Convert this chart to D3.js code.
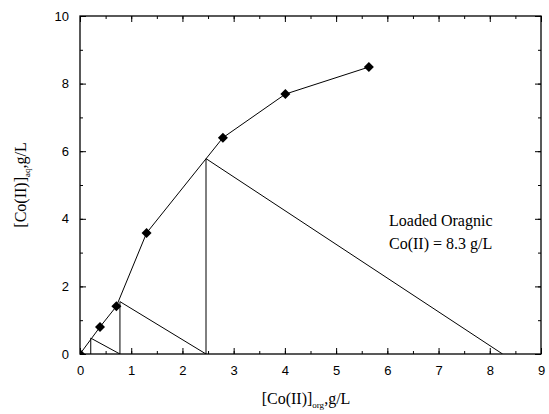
<!DOCTYPE html>
<html>
<head>
<meta charset="utf-8">
<script src="https://cdn.jsdelivr.net/npm/d3@7"></script>
<style>
  body { margin: 0; background: #fff; }
  svg { display: block; }
</style>
</head>
<body>
<svg id="chart" width="549" height="414"></svg>
<script>
// equilibrium points
var xOrg = [0, 0.39, 0.71, 1.30, 2.79, 4.01, 5.64];
var yAq = [0, 0.80, 1.41, 3.58, 6.40, 7.69, 8.49];

// stage construction (operating line + verticals)
var stageX = [8.25, 2.46, 2.46, 0.78, 0.78, 0.21, 0.21];
var stageY = [0, 5.78, 0, 1.55, 0, 0.47, 0];

var xTicks = [0, 1, 2, 3, 4, 5, 6, 7, 8, 9];
var yTicks = [0, 2, 4, 6, 8, 10];

var svg = d3.select('#chart');
// plot box edges (px)
var pL = 80, pR = 541, pT = 16, pB = 354;

var x = d3.scaleLinear().domain([0, 9]).range([pL, pR]);
var y = d3.scaleLinear().domain([0, 10]).range([pB, pT]);

var minorX = d3.range(0, 9.01, 0.5);
var minorY = d3.range(0, 10.01, 1);

svg.append('defs').append('clipPath').attr('id', 'clip')
  .append('rect')
  .attr('x', pL).attr('y', pT)
  .attr('width', pR - pL).attr('height', pB - pT);

// axes, ticks inward
var axisStyle = function(g) {
  g.selectAll('.domain').remove();
  g.selectAll('line').attr('stroke', '#000').attr('stroke-width', 1);
  g.selectAll('text')
    .attr('font-family', 'Liberation Sans, Arial, sans-serif')
    .attr('font-size', '13px')
    .attr('fill', '#000');
};

svg.append('g')
  .attr('transform', 'translate(0,' + pB + ')')
  .call(d3.axisBottom(x).tickValues(minorX).tickSize(-3).tickFormat(''))
  .call(axisStyle);
svg.append('g')
  .attr('transform', 'translate(0,' + pB + ')')
  .call(d3.axisBottom(x).tickValues(xTicks).tickSize(-6).tickPadding(12).tickFormat(d3.format('d')))
  .call(axisStyle);

svg.append('g')
  .attr('transform', 'translate(' + pL + ',0)')
  .call(d3.axisLeft(y).tickValues(minorY).tickSize(-3).tickFormat(''))
  .call(axisStyle);
svg.append('g')
  .attr('transform', 'translate(' + pL + ',0)')
  .call(d3.axisLeft(y).tickValues(yTicks).tickSize(-6).tickPadding(11).tickFormat(d3.format('d')))
  .call(axisStyle);

// top and right mirror ticks
svg.append('g')
  .attr('transform', 'translate(0,' + pT + ')')
  .call(d3.axisTop(x).tickValues(minorX).tickSize(-3).tickFormat(''))
  .call(axisStyle);
svg.append('g')
  .attr('transform', 'translate(0,' + pT + ')')
  .call(d3.axisTop(x).tickValues(xTicks).tickSize(-6).tickFormat(''))
  .call(axisStyle);
svg.append('g')
  .attr('transform', 'translate(' + pR + ',0)')
  .call(d3.axisRight(y).tickValues(minorY).tickSize(-3).tickFormat(''))
  .call(axisStyle);
svg.append('g')
  .attr('transform', 'translate(' + pR + ',0)')
  .call(d3.axisRight(y).tickValues(yTicks).tickSize(-6).tickFormat(''))
  .call(axisStyle);

// frame
svg.append('rect')
  .attr('x', pL).attr('y', pT)
  .attr('width', pR - pL).attr('height', pB - pT)
  .attr('fill', 'none').attr('stroke', '#000').attr('stroke-width', 1.3);

var plot = svg.append('g').attr('clip-path', 'url(#clip)');

var line = d3.line()
  .x(function(d) { return x(d[0]); })
  .y(function(d) { return y(d[1]); });

var stages = d3.zip(stageX, stageY);
plot.append('path')
  .attr('d', line(stages))
  .attr('fill', 'none').attr('stroke', '#000').attr('stroke-width', 1);

var pts = d3.zip(xOrg, yAq);
plot.append('path')
  .attr('d', line(pts))
  .attr('fill', 'none').attr('stroke', '#000').attr('stroke-width', 1);

var diamond = d3.symbol().type(d3.symbolSquare).size(50);
plot.selectAll('.pt')
  .data(pts)
  .enter().append('path')
  .attr('class', 'pt')
  .attr('d', diamond)
  .attr('transform', function(d) { return 'translate(' + x(d[0]) + ',' + y(d[1]) + ') rotate(45)'; })
  .attr('fill', '#000');

// annotation
var serif = 'Liberation Serif, Times New Roman, serif';
svg.append('text')
  .attr('x', 389).attr('y', 226)
  .attr('font-family', serif).attr('font-size', '16px')
  .text('Loaded Oragnic');
svg.append('text')
  .attr('x', 389).attr('y', 249)
  .attr('font-family', serif).attr('font-size', '16px')
  .text('Co(II) = 8.3 g/L');

// axis titles
var xt = svg.append('text')
  .attr('x', 306).attr('y', 404)
  .attr('text-anchor', 'middle')
  .attr('font-family', serif).attr('font-size', '16px');
xt.append('tspan').text('[Co(II)]');
xt.append('tspan').attr('font-size', '9px').attr('dy', 4).text('org');
xt.append('tspan').attr('dy', -4).text(',g/L');

var yt = svg.append('text')
  .attr('transform', 'translate(26,' + ((pT + pB) / 2) + ') rotate(-90)')
  .attr('text-anchor', 'middle')
  .attr('font-family', serif).attr('font-size', '16px');
yt.append('tspan').text('[Co(II)]');
yt.append('tspan').attr('font-size', '9px').attr('dy', 4).text('aq');
yt.append('tspan').attr('dy', -4).text(',g/L');
</script>
</body>
</html>
